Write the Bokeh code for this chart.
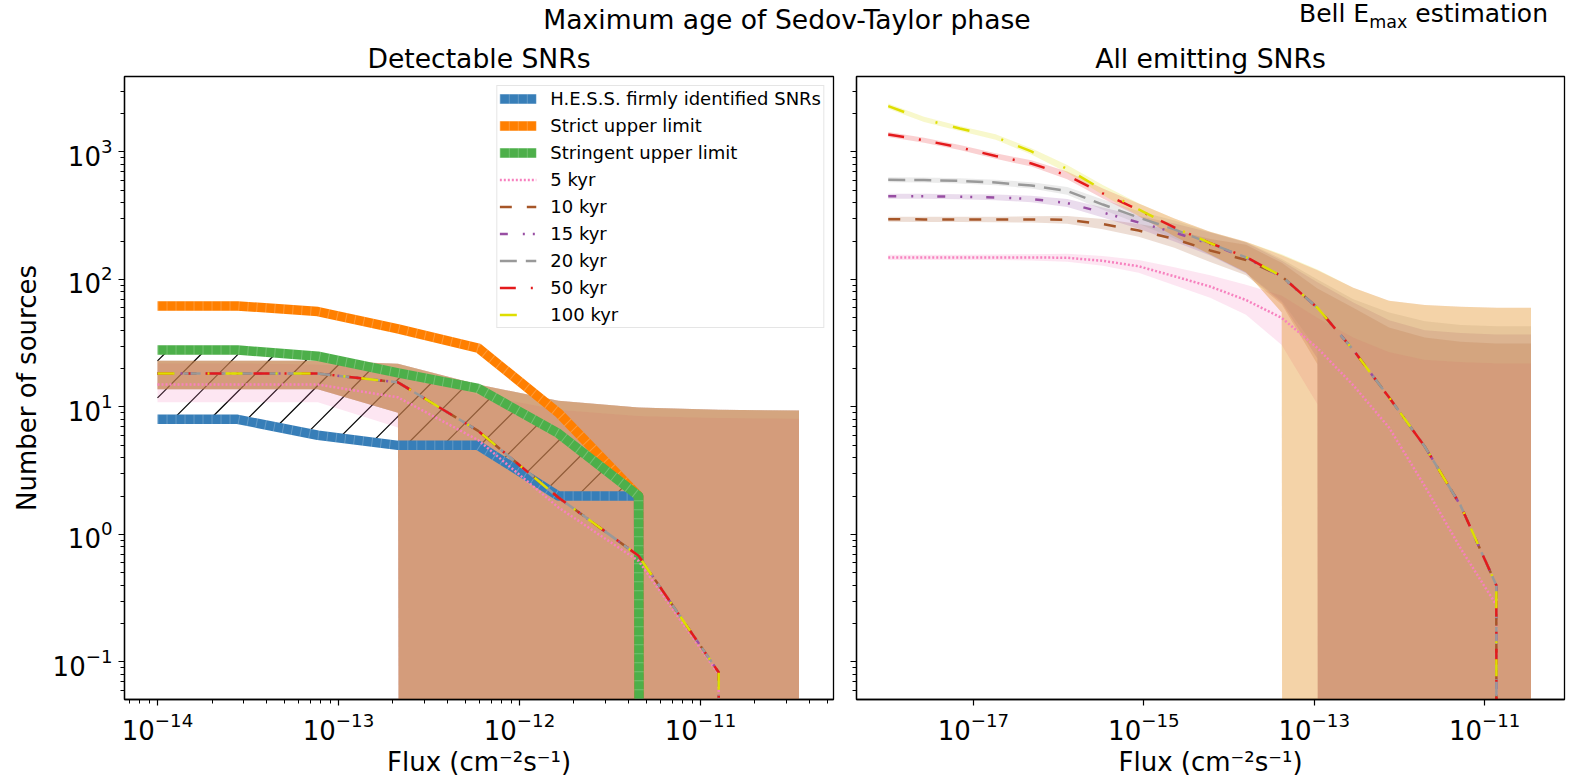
import numpy as np
from bokeh.plotting import figure
from bokeh.models import FixedTicker, Legend, LegendItem, Div, Range1d
from bokeh.layouts import row, column
from bokeh.embed import file_html
from bokeh.resources import INLINE

FONT = "DejaVu Sans"

# ---------------- data ----------------
# flux thresholds (cm^-2 s^-1)
flux_det = [1.00e-14, 2.77e-14, 7.69e-14, 2.13e-13, 5.91e-13, 1.64e-12, 4.55e-12, 1.26e-11, 3.50e-11]
flux_all = [1.00e-18, 2.63e-18, 6.91e-18, 1.82e-17, 4.78e-17, 1.26e-16, 3.30e-16, 8.68e-16,
            2.28e-15, 6.00e-15, 1.58e-14, 4.15e-14, 1.09e-13, 2.87e-13, 7.54e-13, 1.98e-12,
            5.21e-12, 1.37e-11, 3.50e-11]

# observed counts
hess_n = [8, 8, 6, 5, 5, 2, 2, 0, 0]
strict_n = [62, 62, 56, 41, 29, 9, 2, 0, 0]
stringent_n = [28, 28, 25, 18.5, 14, 6.2, 2, 0, 0]

age_labels = ["5 kyr", "10 kyr", "15 kyr", "20 kyr", "50 kyr", "100 kyr"]
age_colors = ["#f781bf", "#a65628", "#984ea3", "#999999", "#e41a1c", "#dede00"]
age_dashes = ["2 2", "12 15", "8 15 2 8 2 14", "17 9", "16 15 2 15", "17 33 2 16"]

# detectable SNRs: median and band per maximum age
det_5kyr = [15, 15, 15, 11.9, 5.5, 1.63, 0.62, 0.08, 0]
det_10kyr = [18.3, 18.3, 18.3, 15.6, 6.5, 1.95, 0.68, 0.083, 0]
det_15kyr = [18.3, 18.3, 18.3, 15.6, 6.5, 1.95, 0.68, 0.083, 0]
det_20kyr = [18.3, 18.3, 18.3, 15.6, 6.5, 1.95, 0.68, 0.083, 0]
det_50kyr = [18.3, 18.3, 18.3, 15.6, 6.5, 1.95, 0.68, 0.083, 0]
det_100kyr = [18.3, 18.3, 18.3, 15.6, 6.5, 1.95, 0.68, 0.083, 0]

det_5kyr_lo = [10.9, 10.9, 10.9, 6.9, 0, 0, 0, 0, 0]
det_5kyr_hi = [22, 22, 21.5, 20, 12.5, 9.5, 8.5, 8.2, 8.1]
det_older_lo = [13.8, 13.8, 13.8, 9.0, 0, 0, 0, 0, 0]
det_older_hi = [23, 23, 23, 21.8, 15, 11.2, 9.9, 9.5, 9.4]

# all emitting SNRs: median and band per maximum age
all_5kyr = [149, 149, 149, 149, 149, 148, 140, 127, 106, 88, 69, 50, 29, 14.8, 6.9, 2.4, 0.78, 0.28, 0]
all_5kyr_lo = [142, 142, 142, 142, 141, 138, 128, 113, 90, 72, 53, 30.6, 10.5, 0, 0, 0, 0, 0, 0]
all_5kyr_hi = [156, 156, 156, 157, 158, 159, 153, 142, 125, 108, 91, 75, 50, 35, 27, 23.5, 22.5, 22, 22]

all_10kyr = [297, 296, 296, 296, 296, 294, 272, 242, 208, 169, 142, 106, 60, 28, 11.9, 4.9, 1.69, 0.40, 0]
all_10kyr_lo = [284, 283, 283, 281, 280, 274, 248, 216, 177, 137, 108, 64, 21.6, 0, 0, 0, 0, 0, 0]
all_10kyr_hi = [311, 310, 310, 311, 313, 315, 298, 272, 244, 208, 187, 135, 85, 60, 42, 35, 32.5, 31.5, 31.5]

all_15kyr = [450, 450, 445, 440, 428, 398, 335, 280, 234, 190, 148, 105, 60, 28, 11.9, 4.9, 1.69, 0.40, 0]
all_15kyr_lo = [430, 430, 425, 418, 404, 371, 306, 250, 199, 154, 112, 66, 24, 0, 0, 0, 0, 0, 0]
all_15kyr_hi = [471, 471, 466, 463, 453, 427, 367, 314, 275, 234, 195, 140, 95, 66, 48, 40, 38, 37, 37]

all_20kyr = [605, 602, 593, 576, 546, 495, 387, 306, 247, 192, 149, 106, 60, 28, 11.9, 4.9, 1.69, 0.40, 0]
all_20kyr_lo = [578, 575, 566, 548, 516, 462, 353, 273, 210, 156, 113, 68, 28, 0, 0, 0, 0, 0, 0]
all_20kyr_hi = [633, 630, 621, 606, 578, 531, 424, 343, 290, 236, 196, 145, 100, 70, 55, 47, 44, 43, 43]

all_50kyr = [1370, 1235, 1085, 930, 813, 655, 473, 351, 256, 193, 150, 106, 60, 28, 11.9, 4.9, 1.69, 0.40, 0]
all_50kyr_lo = [1308, 1180, 1036, 884, 768, 611, 432, 313, 218, 157, 114, 55, 0, 0, 0, 0, 0, 0, 0]
all_50kyr_hi = [1434, 1293, 1136, 978, 861, 702, 518, 394, 301, 237, 198, 155, 118, 86, 68, 63, 61, 60, 60]

all_100kyr = [2290, 1800, 1530, 1310, 1010, 736, 504, 354, 256, 193, 150, 106, 60, 28, 11.9, 4.9, 1.69, 0.40, 0]
all_100kyr_lo = [2187, 1719, 1461, 1245, 954, 687, 460, 316, 218, 157, 114, 55, 0, 0, 0, 0, 0, 0, 0]
all_100kyr_hi = [2398, 1885, 1602, 1378, 1070, 789, 552, 397, 301, 237, 198, 158, 120, 86, 68, 63, 61, 60, 60]

det_medians = [det_5kyr, det_10kyr, det_15kyr, det_20kyr, det_50kyr, det_100kyr]
det_bands = [(det_5kyr_lo, det_5kyr_hi)] + [(det_older_lo, det_older_hi)] * 5
all_medians = [all_5kyr, all_10kyr, all_15kyr, all_20kyr, all_50kyr, all_100kyr]
all_bands = [(all_5kyr_lo, all_5kyr_hi), (all_10kyr_lo, all_10kyr_hi), (all_15kyr_lo, all_15kyr_hi),
             (all_20kyr_lo, all_20kyr_hi), (all_50kyr_lo, all_50kyr_hi), (all_100kyr_lo, all_100kyr_hi)]

y_lim = (0.0508, 3908)
x_lim_det = (6.57e-15, 5.43e-11)
x_lim_all = (4.24e-19, 8.65e-11)
FRAME_H = 623
FRAME_W_DET = 709
FRAME_W_ALL = 708


def on_log(vals):
    # zero counts sit far below the visible range, like a clipped log axis
    return [v if v > 0 else 1e-300 for v in vals]


y_major = [1e-1, 1, 10, 100, 1000]
y_minor = [m * 10.0 ** e for e in range(-2, 4) for m in range(2, 10)]


def make_panel(title, x_lim, min_left, min_right, frame_w, x_major, x_minor, show_ylabels):
    p = figure(x_axis_type="log", y_axis_type="log",
               x_range=Range1d(*x_lim), y_range=Range1d(*y_lim),
               frame_width=frame_w, frame_height=FRAME_H,
               min_border_left=min_left, min_border_right=min_right,
               min_border_top=40, min_border_bottom=76,
               output_backend="svg", toolbar_location=None,
               background_fill_color="white", border_fill_color="white")
    p.margin = (0, 0, 0, 0)
    p.grid.visible = False
    p.outline_line_color = "black"
    p.outline_line_width = 1.3
    p.title.text = title
    p.title.align = "center"
    p.title.text_font = FONT
    p.title.text_font_size = "26.6px"
    p.title.text_font_style = "normal"
    p.title.text_color = "black"
    p.title.standoff = 6

    p.xaxis.ticker = FixedTicker(ticks=x_major, minor_ticks=x_minor)
    p.yaxis.ticker = FixedTicker(ticks=y_major, minor_ticks=y_minor)
    for ax in (p.xaxis, p.yaxis):
        ax.axis_line_color = "black"
        ax.axis_line_width = 1.3
        ax.major_tick_line_color = "black"
        ax.major_tick_line_width = 1.2
        ax.major_tick_out = 6
        ax.major_tick_in = 0
        ax.minor_tick_line_color = "black"
        ax.minor_tick_line_width = 1.0
        ax.minor_tick_out = 4
        ax.minor_tick_in = 0
        ax.major_label_text_font = FONT
        ax.major_label_text_font_size = "26px"
        ax.major_label_text_color = "black"
        ax.axis_label_text_font = FONT
        ax.axis_label_text_font_size = "26px"
        ax.axis_label_text_font_style = "normal"
        ax.axis_label_text_color = "black"
    p.xaxis.axis_label = "Flux (cm\u207b\u00b2s\u207b\u00b9)"
    p.xaxis.major_label_standoff = 6
    p.xaxis.axis_label_standoff = 4
    if show_ylabels:
        p.yaxis.axis_label = "Number of sources"
        p.yaxis.major_label_standoff = 6
        p.yaxis.axis_label_standoff = 8
    else:
        # ticks only on the shared y axis of the second panel
        p.yaxis.major_label_text_font_size = "1px"
        p.yaxis.major_label_text_alpha = 0
        p.yaxis.major_label_standoff = 0
    return p


x_major_det = [1e-14, 1e-13, 1e-12, 1e-11]
x_minor_det = [m * 10.0 ** e for e in range(-15, -10) for m in range(2, 10)]
x_major_all = [1e-17, 1e-15, 1e-13, 1e-11]

p1 = make_panel("Detectable SNRs", x_lim_det, 124, 12, FRAME_W_DET, x_major_det, x_minor_det, True)
p2 = make_panel("All emitting SNRs", x_lim_all, 11, 8, FRAME_W_ALL, x_major_all, [], False)


# ---- left panel ----
def hatch_segments(xs, lower, upper, spacing_px=37, anchor_logx=-13.733):
    """'/' hatch lines at 45 degrees on screen, clipped to lower <= y <= upper."""
    keep = [i for i in range(len(xs)) if lower[i] > 0 and upper[i] > 0]
    lx = np.log10(np.array(xs, dtype=float)[keep])
    llo = np.log10(np.array(lower, dtype=float)[keep])
    lhi = np.log10(np.array(upper, dtype=float)[keep])
    px_x = FRAME_W_DET / np.log10(x_lim_det[1] / x_lim_det[0])
    px_y = FRAME_H / np.log10(y_lim[1] / y_lim[0])
    slope = px_x / px_y
    step = spacing_px / px_x
    grid = np.linspace(lx[0], lx[-1], 6000)
    lo_g = np.interp(grid, lx, llo)
    hi_g = np.interp(grid, lx, lhi)
    x0s, y0s, x1s, y1s = [], [], [], []
    for n in range(-40, 40):
        ly = slope * (grid - anchor_logx - n * step)
        inside = (ly >= lo_g) & (ly <= hi_g)
        if not inside.any():
            continue
        idx = np.flatnonzero(inside)
        runs = np.split(idx, np.flatnonzero(np.diff(idx) > 1) + 1)
        for r in runs:
            x0s.append(10 ** grid[r[0]]); y0s.append(10 ** ly[r[0]])
            x1s.append(10 ** grid[r[-1]]); y1s.append(10 ** ly[r[-1]])
    return x0s, y0s, x1s, y1s


hx0, hy0, hx1, hy1 = hatch_segments(flux_det, hess_n, stringent_n)
p1.segment(x0=hx0, y0=hy0, x1=hx1, y1=hy1, line_color="black", line_width=1.2)

for (lo, hi), col in zip(det_bands, age_colors):
    p1.varea(x=flux_det, y1=on_log(lo), y2=on_log(hi), fill_color=col, fill_alpha=0.2)

obs_items = []
for vals, col in ((hess_n, "#377eb8"), (strict_n, "#ff7f00"), (stringent_n, "#4daf4a")):
    thick = p1.line(flux_det, on_log(vals), line_color=col, line_width=9.5, line_join="round")
    seams = p1.line(flux_det, on_log(vals), line_color="white", line_alpha=0.22, line_width=9.5,
                    line_dash="1 8", line_cap="butt")
    obs_items.append([thick, seams])

age_items = []
for vals, col, dash in zip(det_medians, age_colors, age_dashes):
    age_items.append([p1.line(flux_det, on_log(vals), line_color=col, line_width=2.5,
                              line_dash=dash, line_cap="butt")])

legend_labels = ["H.E.S.S. firmly identified SNRs", "Strict upper limit", "Stringent upper limit"] + age_labels
legend = Legend(items=[LegendItem(label=lab, renderers=rs)
                       for lab, rs in zip(legend_labels, obs_items + age_items)],
                location="top_right", margin=9, padding=2, spacing=6,
                glyph_width=37, glyph_height=21, label_height=21, label_standoff=14,
                label_text_font=FONT, label_text_font_size="18px", label_text_color="black",
                border_line_color="#cccccc", border_line_width=1,
                background_fill_color="white", background_fill_alpha=0.8)
p1.add_layout(legend)

# ---- right panel ----
for (lo, hi), col in zip(all_bands, age_colors):
    p2.varea(x=flux_all, y1=on_log(lo), y2=on_log(hi), fill_color=col, fill_alpha=0.2)
for vals, col, dash in zip(all_medians, age_colors, age_dashes):
    p2.line(flux_all, on_log(vals), line_color=col, line_width=2.5, line_dash=dash, line_cap="butt")

suptitle = "Maximum age of Sedov-Taylor phase"
header = Div(text=(
    "<div style=\"position:relative;width:1572px;height:36px;font-family:'DejaVu Sans';color:#000;\">"
    "<span style=\"position:absolute;left:787px;top:7px;transform:translateX(-50%);font-size:26.6px;"
    "line-height:1;white-space:nowrap;\">" + suptitle + "</span>"
    "<span style=\"position:absolute;left:1299px;top:1px;font-size:25px;line-height:1;"
    "white-space:nowrap;\">Bell E<sub style=\"font-size:0.7em;line-height:0;\">max</sub> estimation</span>"
    "</div>"), width=1572, height=36, margin=(0, 0, 0, 0))

layout = column(header, row(p1, p2, margin=(0, 0, 0, 0)), margin=(0, 0, 0, 0))

with open("out.html", "w") as f:
    f.write(file_html(layout, INLINE, "Sedov-Taylor phase"))
